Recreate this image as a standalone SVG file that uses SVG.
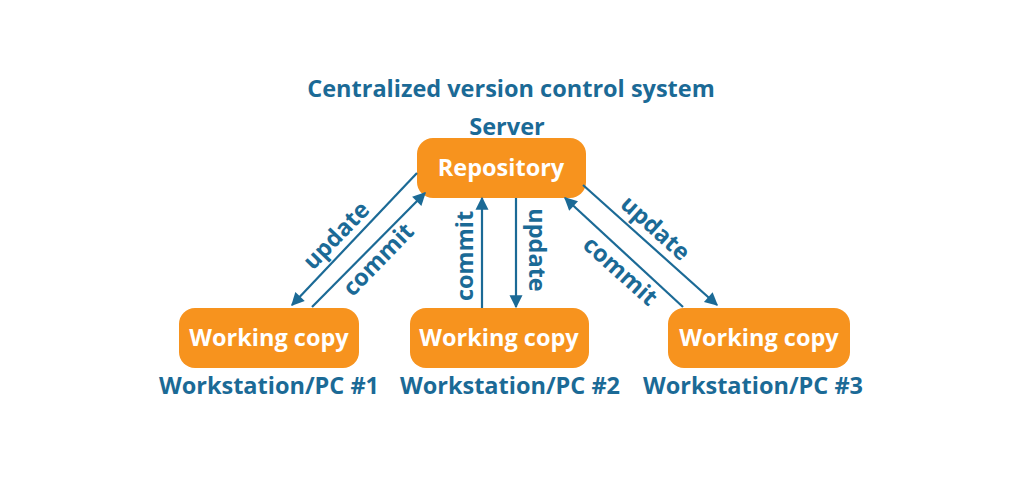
<svg xmlns="http://www.w3.org/2000/svg" width="1024" height="478" viewBox="0 0 1024 478">
<defs>
<style>
.t{font-family:"Open Sans","Noto Sans","Liberation Sans",sans-serif;font-weight:700;text-anchor:middle;font-size:23.5px}
.b{fill:#1b6a96}
.w{fill:#ffffff}
.box{fill:#f7931e}
.ln{stroke:#1b6a96;stroke-width:2.2;fill:none;marker-end:url(#ah)}
</style>
<marker id="ah" viewBox="0 0 10 10" refX="9" refY="5" markerWidth="6.5" markerHeight="6.5" markerUnits="userSpaceOnUse" orient="auto" style="overflow:visible">
<path d="M0,0 L10,5 L0,10 Z" fill="#1b6a96" transform="scale(2) translate(-4.5,-2.5)"/>
</marker>
</defs>
<rect width="1024" height="478" fill="#ffffff"/>
<text class="t b" x="511" y="97">Centralized version control system</text>
<g id="repository">
<text class="t b" x="507" y="135">Server</text>
<rect class="box" x="417" y="138" width="169" height="60" rx="16"/>
<text class="t w" x="501" y="176">Repository</text>
</g>
<g id="wc1">
<rect class="box" x="179" y="308" width="180" height="60" rx="16"/>
<text class="t w" x="269" y="346">Working copy</text>
<text class="t b" x="269" y="394">Workstation/PC #1</text>
</g>
<g id="wc2">
<rect class="box" x="410" y="308" width="179" height="60" rx="16"/>
<text class="t w" x="499" y="346">Working copy</text>
<text class="t b" x="510" y="394">Workstation/PC #2</text>
</g>
<g id="wc3">
<rect class="box" x="668" y="308" width="182" height="60" rx="16"/>
<text class="t w" x="759" y="346">Working copy</text>
<text class="t b" x="753" y="394">Workstation/PC #3</text>
</g>
<g id="connectors">
<line class="ln" x1="417" y1="173" x2="292" y2="305"/>
<line class="ln" x1="312" y1="307" x2="425" y2="193"/>
<line class="ln" x1="482" y1="308" x2="482" y2="198"/>
<line class="ln" x1="516" y1="198" x2="516" y2="307"/>
<line class="ln" x1="583" y1="185" x2="717" y2="305"/>
<line class="ln" x1="683" y1="307" x2="565" y2="198"/>
<text class="t b" transform="translate(342,241) rotate(-46)">update</text>
<text class="t b" transform="translate(384,265) rotate(-46)">commit</text>
<text class="t b" transform="translate(473,256) rotate(-90)">commit</text>
<text class="t b" transform="translate(529,250) rotate(90)">update</text>
<text class="t b" transform="translate(650,234) rotate(42)">update</text>
<text class="t b" transform="translate(615,277) rotate(42)">commit</text>
</g>
</svg>
